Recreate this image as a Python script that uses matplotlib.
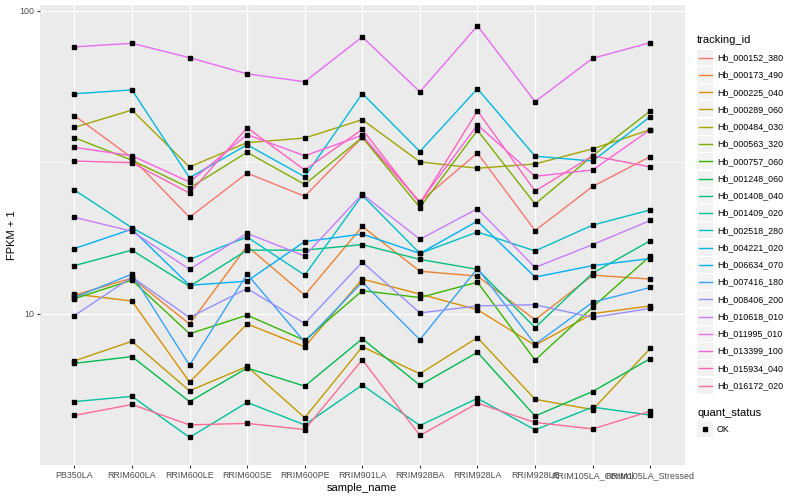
import matplotlib
matplotlib.use("Agg")
import matplotlib.pyplot as plt
from matplotlib.patches import Rectangle
from matplotlib.lines import Line2D

plt.rcParams['font.family'] = ['Liberation Sans', 'DejaVu Sans']

samples = ["PB350LA", "RRIM600LA", "RRIM600LE", "RRIM600SE", "RRIM600PE",
           "RRIM901LA", "RRIM928BA", "RRIM928LA", "RRIM928LE",
           "RRIM105LA_Control", "RRIM105LA_Stressed"]

# FPKM + 1 per sample
hb_000152_380 = [45.1, 32.7, 20.8, 29.1, 24.4, 38.2, 23.4, 33.9, 18.8, 26.3, 33.0]
hb_000173_490 = [11.5, 13.1, 9.24, 16.7, 11.5, 19.4, 13.8, 13.3, 9.54, 13.4, 13.0]
hb_000225_040 = [11.6, 11.0, 5.94, 9.24, 7.77, 13.0, 11.6, 10.3, 7.86, 10.0, 10.6]
hb_000289_060 = [6.98, 8.10, 5.56, 6.69, 4.53, 7.77, 6.33, 8.33, 5.21, 4.82, 7.67]
hb_000484_030 = [41.2, 47.0, 30.5, 36.7, 38.0, 43.7, 31.7, 30.2, 31.2, 35.0, 40.5]
hb_000563_320 = [38.1, 32.1, 26.0, 34.1, 26.7, 38.2, 22.4, 40.3, 23.0, 33.2, 46.7]
hb_000757_060 = [11.2, 12.9, 8.58, 9.88, 8.16, 11.9, 11.3, 12.7, 7.02, 10.5, 15.5]
hb_001248_060 = [6.85, 7.21, 5.12, 6.61, 5.76, 8.26, 5.80, 7.45, 4.59, 5.53, 7.10]
hb_001408_040 = [14.4, 16.2, 12.3, 16.2, 16.2, 16.9, 15.1, 14.0, 8.99, 13.6, 17.4]
hb_001409_020 = [5.12, 5.33, 3.90, 5.09, 4.29, 5.81, 4.27, 5.25, 4.13, 4.91, 4.62]
hb_002518_280 = [25.6, 19.2, 15.1, 17.9, 13.4, 24.6, 15.8, 18.6, 16.1, 19.6, 22.0]
hb_004221_020 = [53.2, 54.8, 28.1, 36.1, 28.3, 53.3, 34.3, 55.3, 33.1, 31.9, 44.7]
hb_006634_070 = [16.4, 19.0, 12.4, 12.8, 17.3, 18.3, 15.8, 20.2, 13.2, 14.4, 15.2]
hb_007416_180 = [11.3, 13.5, 6.75, 13.5, 8.06, 12.7, 8.20, 14.1, 7.92, 10.9, 12.2]
hb_008406_200 = [9.85, 13.2, 9.71, 12.1, 9.28, 14.8, 10.05, 10.6, 10.7, 9.71, 10.4]
hb_010618_010 = [20.8, 18.7, 14.0, 18.4, 15.5, 24.8, 17.6, 22.2, 14.2, 16.9, 20.3]
hb_011995_010 = [76.0, 78.1, 70.0, 61.9, 58.3, 82.0, 54.0, 89.2, 50.1, 69.7, 78.5]
hb_013399_100 = [35.4, 33.2, 27.2, 39.0, 33.2, 38.8, 23.3, 42.0, 28.4, 29.8, 40.5]
hb_015934_040 = [31.9, 31.5, 25.0, 41.1, 29.8, 40.6, 23.1, 46.7, 25.4, 33.2, 30.5]
hb_016172_020 = [4.61, 5.01, 4.29, 4.34, 4.14, 7.04, 3.96, 5.06, 4.37, 4.16, 4.76]

tracking_ids = ["Hb_000152_380", "Hb_000173_490", "Hb_000225_040", "Hb_000289_060",
                "Hb_000484_030", "Hb_000563_320", "Hb_000757_060", "Hb_001248_060",
                "Hb_001408_040", "Hb_001409_020", "Hb_002518_280", "Hb_004221_020",
                "Hb_006634_070", "Hb_007416_180", "Hb_008406_200", "Hb_010618_010",
                "Hb_011995_010", "Hb_013399_100", "Hb_015934_040", "Hb_016172_020"]
series = [hb_000152_380, hb_000173_490, hb_000225_040, hb_000289_060, hb_000484_030,
          hb_000563_320, hb_000757_060, hb_001248_060, hb_001408_040, hb_001409_020,
          hb_002518_280, hb_004221_020, hb_006634_070, hb_007416_180, hb_008406_200,
          hb_010618_010, hb_011995_010, hb_013399_100, hb_015934_040, hb_016172_020]

# ggplot2 default hue palette for 20 levels
colors = ["#F8766D", "#EA8331", "#D89000", "#C09B00", "#A3A500", "#7CAE00", "#39B600",
          "#00BB4E", "#00BF7D", "#00C1A3", "#00BFC4", "#00BAE0", "#00B0F6", "#35A2FF",
          "#9590FF", "#C77CFF", "#E76BF3", "#FA62DB", "#FF62BC", "#FF6C91"]

W, H = 800, 500
fig = plt.figure(figsize=(8, 5), dpi=100)
ax = fig.add_axes([39.8 / W, 35 / H, 645 / W, 460 / H])
ax.set_facecolor("#EBEBEB")

x = list(range(len(samples)))
for vals, col in zip(series, colors):
    ax.plot(x, vals, color=col, lw=1.0, zorder=3)
for vals in series:
    ax.plot(x, vals, ls="none", marker="s", ms=2.2, color="black", zorder=4)

ax.set_yscale("log")
ax.set_ylim(3.43, 104.5)
ax.set_xlim(-0.6, 10.6)
ax.set_yticks([10, 100])
ax.set_yticklabels(["10", "100"])
ax.set_yticks([3.1623, 31.623], minor=True)
ax.yaxis.set_minor_formatter(plt.NullFormatter())
ax.set_xticks(x)
ax.set_xticklabels(samples)

ax.grid(True, which="major", color="white", lw=1.0, zorder=1)
ax.grid(True, which="minor", axis="y", color="white", lw=0.5, zorder=1)
ax.set_axisbelow(True)
for s in ax.spines.values():
    s.set_visible(False)
ax.tick_params(axis="both", which="major", length=2.5, width=0.8, color="#333333",
               labelsize=6.4, labelcolor="#4D4D4D", pad=1.8)
ax.tick_params(axis="y", which="minor", length=0)

ax.set_xlabel("sample_name", fontsize=8, color="black", labelpad=2)
ax.set_ylabel("FPKM + 1", fontsize=8, color="black", labelpad=1)

# legend drawn in pixel coordinates, ggplot style
def px(xp, yp):
    return xp / W, 1 - yp / H

fig.text(*px(697, 40), "tracking_id", fontsize=8, va="center", ha="left")
step = 17.26
for i, (name, col) in enumerate(zip(tracking_ids, colors)):
    yc = 57.7 + i * step
    x0, y0 = px(697, yc + 8)
    fig.add_artist(Rectangle((x0, y0), 16 / W, 16 / H, transform=fig.transFigure,
                             facecolor="#F2F2F2", edgecolor="none"))
    fig.add_artist(Line2D([px(698.5, 0)[0], px(711.5, 0)[0]], [px(0, yc)[1]] * 2,
                          transform=fig.transFigure, color=col, lw=1.0))
    fig.text(*px(717, yc), name, fontsize=6.4, va="center", ha="left")

fig.text(*px(697, 412.5), "quant_status", fontsize=8, va="center", ha="left")
x0, y0 = px(697, 429.3 + 8)
fig.add_artist(Rectangle((x0, y0), 16 / W, 16 / H, transform=fig.transFigure,
                         facecolor="#F2F2F2", edgecolor="none"))
fig.add_artist(Line2D([px(705, 0)[0]], [px(0, 429.3)[1]], transform=fig.transFigure,
                      ls="none", marker="s", ms=2.2, color="black"))
fig.text(*px(717, 429.3), "OK", fontsize=6.4, va="center", ha="left")

fig.savefig("out.png", dpi=100)
